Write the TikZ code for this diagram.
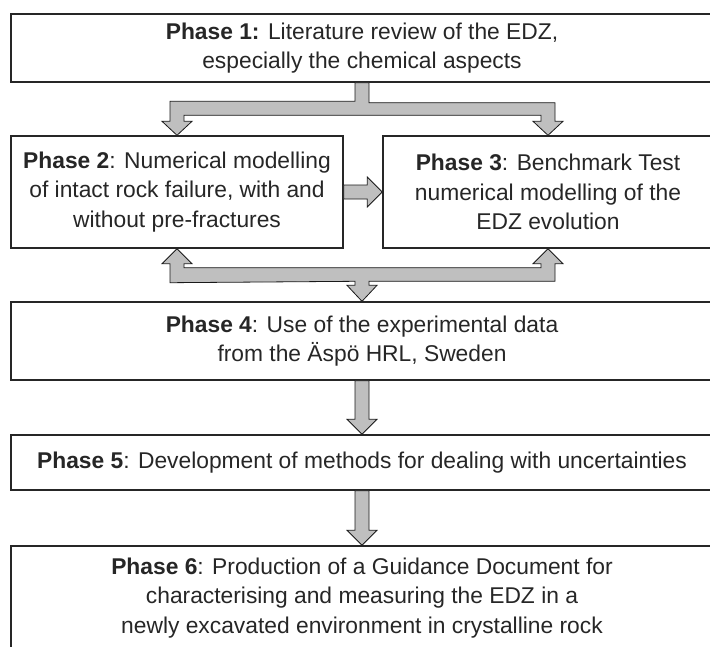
\documentclass[tikz,border=0pt]{standalone}
\usepackage{fontspec}
\setmainfont{Liberation Sans}
\usetikzlibrary{calc}

\begin{document}
\begin{tikzpicture}[x=1pt, y=-1pt,
    phase/.style={rectangle, draw=black!85, line width=1.4pt, align=center, inner sep=0pt,
                  font=\fontsize{22.8}{29.5}\selectfont, text=black!85},
    fat/.style={draw=black!90, line width=0.8pt, fill=gray!50, line join=miter}]

    \useasboundingbox (0,0) rectangle (710,646);
    \clip (0,0) rectangle (710,646);

    % Phase 1
    \node[phase, minimum width=702, minimum height=68] (p1) at (362,48)
        {\textbf{Phase 1:} Literature review of the EDZ,\\especially the chemical aspects};

    % Phases 2 and 3
    \node[phase, minimum width=332, minimum height=112] (p2) at (177,192)
        {\textbf{Phase 2}: Numerical modelling\\of intact rock failure, with and\\without pre-fractures};
    \node[phase, minimum width=330, minimum height=112] (p3) at (548,192)
        {\textbf{Phase 3}: Benchmark Test\\numerical modelling of the\\EDZ evolution};

    % Phases 4 to 6
    \node[phase, minimum width=702, minimum height=78] (p4) at (362,341)
        {\textbf{Phase 4}: Use of the experimental data\\from the Äspö HRL, Sweden};
    \node[phase, minimum width=702, minimum height=55] (p5) at (362,462.5)
        {\textbf{Phase 5}: Development of methods for dealing with uncertainties};
    \node[phase, minimum width=702, minimum height=104] (p6) at (362,598)
        {\textbf{Phase 6}: Production of a Guidance Document for\\characterising and measuring the EDZ in a\\newly excavated environment in crystalline rock};

    % Fork from phase 1
    \draw[fat] ($(p1.south)+(-7,0)$) |- ($(p2.north)+(-7,-34)$) -- ($(p2.north)+(-7,-14)$)
        -- ++(-8,0) -- (p2.north) -- ++(15,-14) -- ++(-8,0) |- ($(p3.north)+(-7,-20)$)
        -- ++(0,6) -- ++(-8,0) -- (p3.north) -- ++(15,-14) -- ++(-8,0)
        |- ($(p1.south)+(7,20)$) -- ++(0,-20) -- cycle;

    % Phase 2 to phase 3
    \draw[fat] ($(p2.east)+(0,-7)$) -- ($(p3.west)+(-15,-7)$) -- ++(0,-8) -- (p3.west)
        -- ++(-15,15) -- ++(0,-8) -- ($(p2.east)+(0,7)$) -- cycle;

    % Exchange with phase 4
    \draw[fat] ($(p2.south)+(-7,34)$) -- ($(p2.south)+(-7,15)$) -- ++(-8,0) -- (p2.south)
        -- ++(15,15) -- ++(-8,0) |- ($(p3.south)+(-7,19)$) -- ++(0,-4) -- ++(-8,0)
        -- (p3.south) -- ++(15,15) -- ++(-8,0) |- ($(p4.north)+(7,-20)$) -- ++(0,4)
        -- ++(8,0) -- (p4.north) -- ++(-15,-16) -- ++(8,0) -- ++(0,-4) -- cycle;

    % Down the chain
    \foreach \a/\b in {p4/p5, p5/p6}
        \draw[fat] ($(\a.south)+(-7,0)$) -- ($(\b.north)+(-7,-15)$) -- ++(-8,0) -- (\b.north)
            -- ++(15,-15) -- ++(-8,0) -- ($(\a.south)+(7,0)$) -- cycle;

\end{tikzpicture}
\end{document}
